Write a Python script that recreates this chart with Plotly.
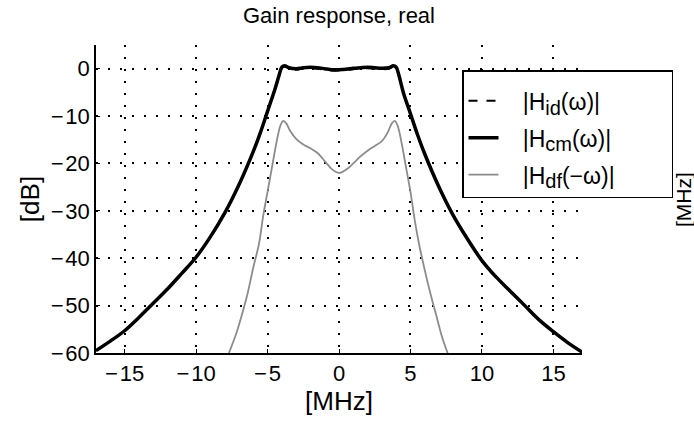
import plotly.graph_objects as go

# ---- data ----
freq_cm = [-17, -16, -15, -14, -13, -12, -11, -10, -9, -8, -7, -6, -5.5, -5, -4.5, -4.2, -4.0, -3.8,
           -3.5, -3, -2.5, -2, -1.5, -1, -0.5, 0, 0.5, 1, 1.5, 2, 2.5, 3, 3.5, 3.8, 4.0, 4.2, 4.5,
           5, 5.5, 6, 7, 8, 9, 10, 11, 12, 13, 14, 15, 16, 17]
gain_cm = [-59.5, -57.5, -55.3, -52.5, -49.5, -46.5, -43.2, -39.8, -35.5, -30.5, -24.5, -17.5, -13.5,
           -9.0, -4.5, -1.5, 0.3, 0.6, 0.2, 0.0, 0.2, 0.3, 0.2, 0.0, -0.2, -0.2, -0.1, 0.1, 0.2, 0.3,
           0.2, 0.1, 0.2, 0.6, 0.3, -1.5, -5.0, -9.5, -14.0, -18.0, -25.0, -31.0, -36.0, -40.5, -44.0,
           -47.0, -50.0, -53.0, -55.5, -57.8, -59.8]

freq_id = freq_cm
gain_id = [-59.5, -57.5, -55.3, -52.5, -49.5, -46.5, -43.2, -39.8, -35.5, -30.5, -24.5, -17.5, -13.5,
           -9.0, -4.5, -1.5, 0.2, 0.4, 0.0, -0.2, 0.0, 0.1, 0.0, -0.2, -0.4, -0.4, -0.3, -0.1, 0.0, 0.1,
           0.0, -0.1, 0.0, 0.4, 0.2, -1.5, -5.0, -9.5, -14.0, -18.0, -25.0, -31.0, -36.0, -40.5, -44.0,
           -47.0, -50.0, -53.0, -55.5, -57.8, -59.8]

freq_df = [-7.7, -7.2, -6.8, -6.4, -6.0, -5.6, -5.3, -5.0, -4.7, -4.4, -4.1, -3.9, -3.7, -3.4, -3.0,
           -2.5, -2.0, -1.5, -1.0, -0.5, 0, 0.5, 1.0, 1.5, 2.0, 2.5, 3.0, 3.4, 3.7, 3.9, 4.1, 4.4,
           4.7, 5.0, 5.3, 5.6, 6.0, 6.4, 6.8, 7.2, 7.6]
gain_df = [-60, -56, -52, -47.5, -42, -37, -31, -26, -21, -16, -12, -11, -11.5, -13.2, -14.8,
           -16.0, -16.8, -17.8, -19.5, -21.2, -22, -21.3, -20, -18.5, -17.3, -16.3, -15.3, -13.5,
           -11.5, -11, -12, -16, -21, -26, -32, -37, -42.5, -47.5, -52, -56.5, -60]

x_ticks = [-15, -10, -5, 0, 5, 10, 15]
x_labels = ["−\u200a15", "−\u200a10", "−\u200a5", "0", "5", "10", "15"]
y_ticks = [-60, -50, -40, -30, -20, -10, 0]
y_labels = ["−\u200a60", "−\u200a50", "−\u200a40", "−\u200a30", "−\u200a20", "−\u200a10", "0"]

FONT = "Liberation Sans, Arial, sans-serif"
SUB = "<sub><span style='font-size:20px'>{}</span></sub>"
PAD = "\u00a0\u00a0\u00a0"

W, H = 694, 425
L, R, T, B = 96, 112, 45, 72
PW, PH = W - L - R, H - T - B

fig = go.Figure()
fig.add_trace(go.Scatter(x=freq_id, y=gain_id, mode="lines", legendgroup="a", legendrank=1,
                         name=PAD + "|H" + SUB.format("id") + "(ω)|",
                         line=dict(color="black", width=2, dash="dash", shape="spline")))
fig.add_trace(go.Scatter(x=freq_cm, y=gain_cm, mode="lines", legendgroup="b", legendrank=2,
                         name=PAD + "|H" + SUB.format("cm") + "(ω)|",
                         line=dict(color="black", width=3.5, shape="spline")))
fig.add_trace(go.Scatter(x=freq_df, y=gain_df, mode="lines", legendgroup="c", legendrank=3,
                         name=PAD + "|H" + SUB.format("df") + "(−ω)|" + "\u00a0" * 8,
                         line=dict(color="#8c8c8c", width=1.8, shape="spline")))
# empty spacer entry so the legend box gets the reference's bottom padding
fig.add_trace(go.Scatter(x=[], y=[], mode="lines", legendgroup="d", legendrank=4,
                         name="<span style='font-size:9px'>\u00a0</span>",
                         line=dict(color="rgba(0,0,0,0)", width=0), hoverinfo="skip"))

fig.update_layout(
    width=W, height=H,
    margin=dict(l=L, r=R, t=T, b=B),
    paper_bgcolor="white", plot_bgcolor="white",
    font=dict(family=FONT, size=22, color="black"),
    title=dict(text="Gain response, real", x=(L + PW / 2) / W, xanchor="center",
               y=1 - 15 / H, yanchor="middle", font=dict(size=22)),
    showlegend=True,
    legend=dict(x=(462 - L) / PW, y=(T + PH - 70) / PH, xanchor="left", yanchor="top",
                bordercolor="black", borderwidth=1.5, bgcolor="white",
                font=dict(size=23), tracegroupgap=4,
                title=dict(text=" ", font=dict(size=6))),
)
fig.update_xaxes(range=[-17, 17], tickvals=x_ticks, ticktext=x_labels,
                 showgrid=True, gridcolor="black", griddash="2px,10px", gridwidth=1.5,
                 showline=True, linecolor="black", linewidth=1.5, ticks="inside", ticklen=4,
                 tickcolor="black", zeroline=False,
                 title=dict(text="[MHz]", standoff=2))
fig.update_yaxes(range=[-60, 5], tickvals=y_ticks, ticktext=y_labels,
                 showgrid=True, gridcolor="black", griddash="2px,10px", gridwidth=1.5,
                 showline=True, linecolor="black", linewidth=1.5, ticks="inside", ticklen=4,
                 tickcolor="black", zeroline=False,
                 title=dict(text="[dB]", standoff=4))

fig.add_annotation(text="[MHz]", xref="paper", yref="paper", x=(683 - L) / PW, y=(T + PH - 200) / PH,
                   showarrow=False, textangle=-90, font=dict(size=21), xanchor="center", yanchor="middle")

fig.write_html("out.html", config={"displayModeBar": False},
               post_script="document.body.style.margin='0';")
